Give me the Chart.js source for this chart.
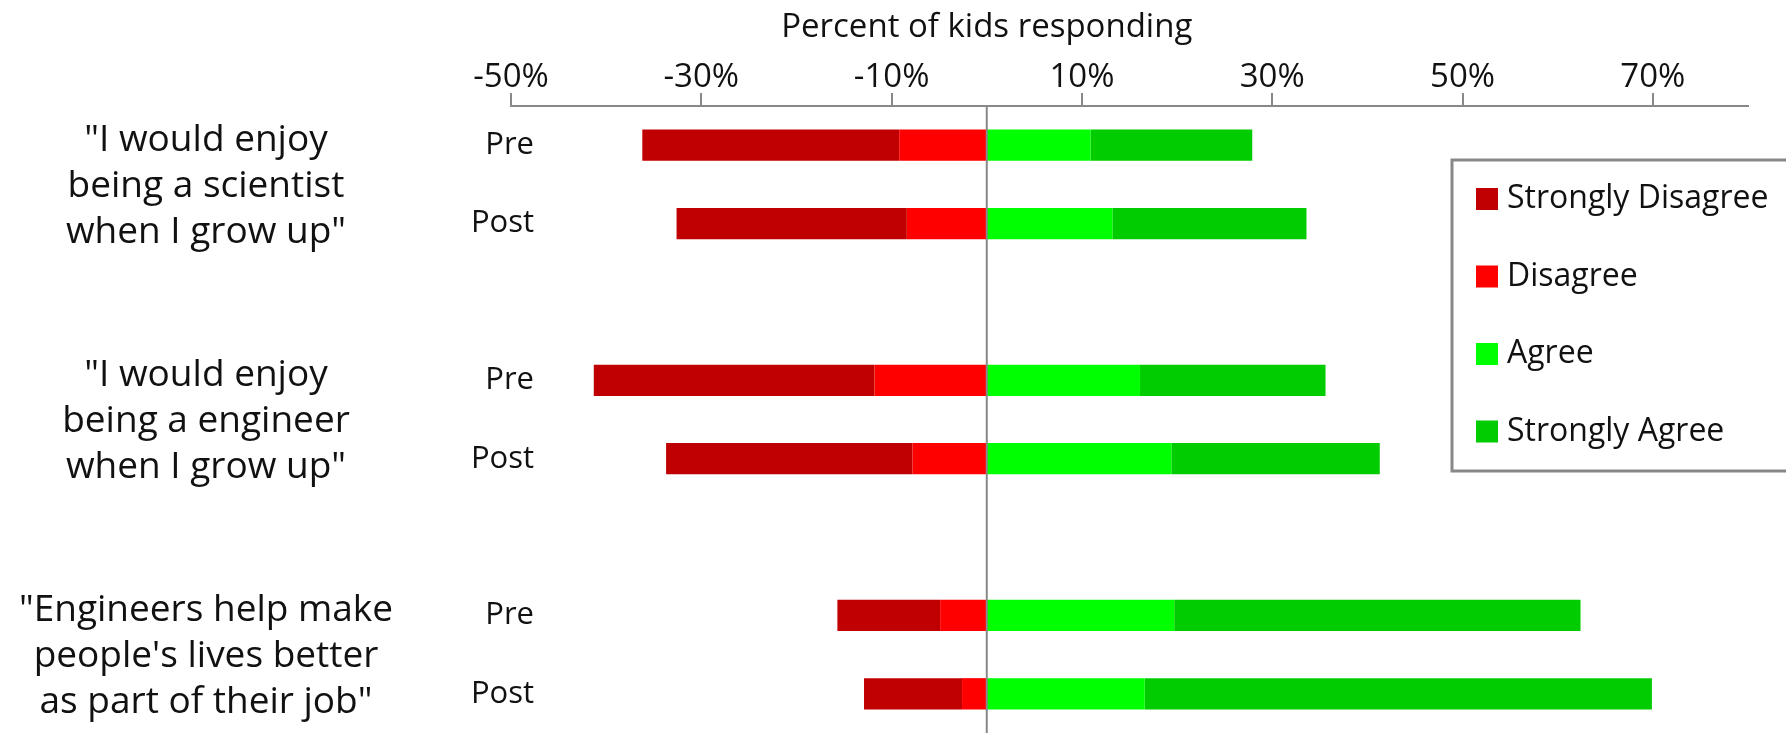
<!DOCTYPE html>
<html>
<head>
<meta charset="utf-8">
<script src="https://cdn.jsdelivr.net/npm/chart.js@4.4.1/dist/chart.umd.min.js"></script>
<style>
  body { margin:0; background:#fff; }
</style>
</head>
<body>
<canvas id="likertChart" width="1786" height="733"></canvas>
<script>
// DATA
const rowLabels = ["Pre", "Post", "", "Pre", "Post", "", "Pre", "Post"];
const questions = [
    ['"I would enjoy', 'being a scientist', 'when I grow up"'],
    ['"I would enjoy', 'being a engineer', 'when I grow up"'],
    ['"Engineers help make', "people's lives better", 'as part of their job"']
];
const questionRows = [[0, 1], [3, 4], [6, 7]];

const stronglyDisagree = [-27.0, -24.2, null, -29.5, -25.9, null, -10.8, -10.3];
const disagree         = [-9.2, -8.4, null, -11.8, -7.8, null, -4.9, -2.6];
const agree            = [10.9, 13.2, null, 16.1, 19.4, null, 19.7, 16.6];
const stronglyAgree    = [17.0, 20.4, null, 19.5, 21.9, null, 42.7, 53.3];

const xTicks = [-50, -30, -10, 10, 30, 50, 70];
const legendLabels = ["Strongly Disagree", "Disagree", "Agree", "Strongly Agree"];

const FONT = '"Open Sans", sans-serif';
const GREY = "#888888";

// stacking: first dataset sits next to zero, so Disagree before Strongly Disagree
const datasets = [
    { label: "Disagree", data: disagree, backgroundColor: "#ff0000" },
    { label: "Strongly Disagree", data: stronglyDisagree, backgroundColor: "#c00000" },
    { label: "Agree", data: agree, backgroundColor: "#00ff00" },
    { label: "Strongly Agree", data: stronglyAgree, backgroundColor: "#00cc00" }
].map(d => Object.assign(d, { barPercentage: 0.4, categoryPercentage: 1.0, borderWidth: 0 }));

// extra drawing: zero line, title, row + question labels, legend box
const extras = {
    id: "extras",
    afterDatasetsDraw(chart) {
        const ctx = chart.ctx, x = chart.scales.x, area = chart.chartArea;
        const x0 = x.getPixelForValue(0);
        ctx.save();
        ctx.strokeStyle = GREY;
        ctx.lineWidth = 2;
        ctx.beginPath();
        ctx.moveTo(x0, area.top);
        ctx.lineTo(x0, area.bottom);
        ctx.stroke();
        ctx.restore();
    },
    afterDraw(chart) {
        const ctx = chart.ctx, x = chart.scales.x, y = chart.scales.y, area = chart.chartArea;
        ctx.save();
        ctx.fillStyle = "#111";
        ctx.textBaseline = "middle";

        // axis title centred over zero
        ctx.font = "33px " + FONT;
        ctx.textAlign = "center";
        ctx.fillText("Percent of kids responding", x.getPixelForValue(0), area.top - 78);

        // question labels
        ctx.font = "37px " + FONT;
        questions.forEach((lines, i) => {
            const r = questionRows[i];
            const cy = (y.getPixelForValue(r[0]) + y.getPixelForValue(r[1])) / 2;
            lines.forEach((t, k) => ctx.fillText(t, 206, cy + 2 + (k - 1) * 46));
        });

        // Pre / Post row labels
        ctx.font = "31px " + FONT;
        ctx.textAlign = "right";
        chart.data.labels.forEach((lab, i) => {
            if (lab) ctx.fillText(lab, area.left + 23, y.getPixelForValue(i));
        });

        // legend
        const bx = 1452, by = 160, bh = 311;
        ctx.strokeStyle = GREY;
        ctx.lineWidth = 3;
        ctx.strokeRect(bx, by, 400, bh);
        ctx.textAlign = "left";
        ctx.font = "32px " + FONT;
        legendLabels.forEach((lab, i) => {
            const ds = chart.data.datasets.find(d => d.label === lab);
            const cy = by + 39 + i * 77.5;
            ctx.fillStyle = ds.backgroundColor;
            ctx.fillRect(bx + 24, cy - 11, 22, 22);
            ctx.fillStyle = "#111";
            ctx.fillText(lab, bx + 55, cy);
        });
        ctx.restore();
    }
};

new Chart(document.getElementById("likertChart"), {
    type: "bar",
    data: { labels: rowLabels, datasets: datasets },
    options: {
        indexAxis: "y",
        responsive: false,
        animation: false,
        layout: { padding: { top: 0, right: 38, bottom: 0, left: 0 } },
        plugins: { legend: { display: false }, tooltip: { enabled: false } },
        scales: {
            x: {
                position: "top",
                stacked: true,
                min: -50,
                max: 80,
                afterBuildTicks: s => { s.ticks = xTicks.map(v => ({ value: v })); },
                afterFit: s => { s.height = 106; },
                grid: { drawOnChartArea: false, drawTicks: true, tickLength: 13, color: GREY, lineWidth: 2 },
                border: { display: true, color: GREY, width: 2 },
                ticks: {
                    padding: -4,
                    color: "#111",
                    font: { family: FONT, size: 33 },
                    callback: v => v + "%"
                }
            },
            y: {
                stacked: true,
                afterFit: s => { s.width = 511; },
                grid: { display: false },
                border: { display: false },
                ticks: { display: false }
            }
        }
    },
    plugins: [extras]
});
</script>
</body>
</html>
